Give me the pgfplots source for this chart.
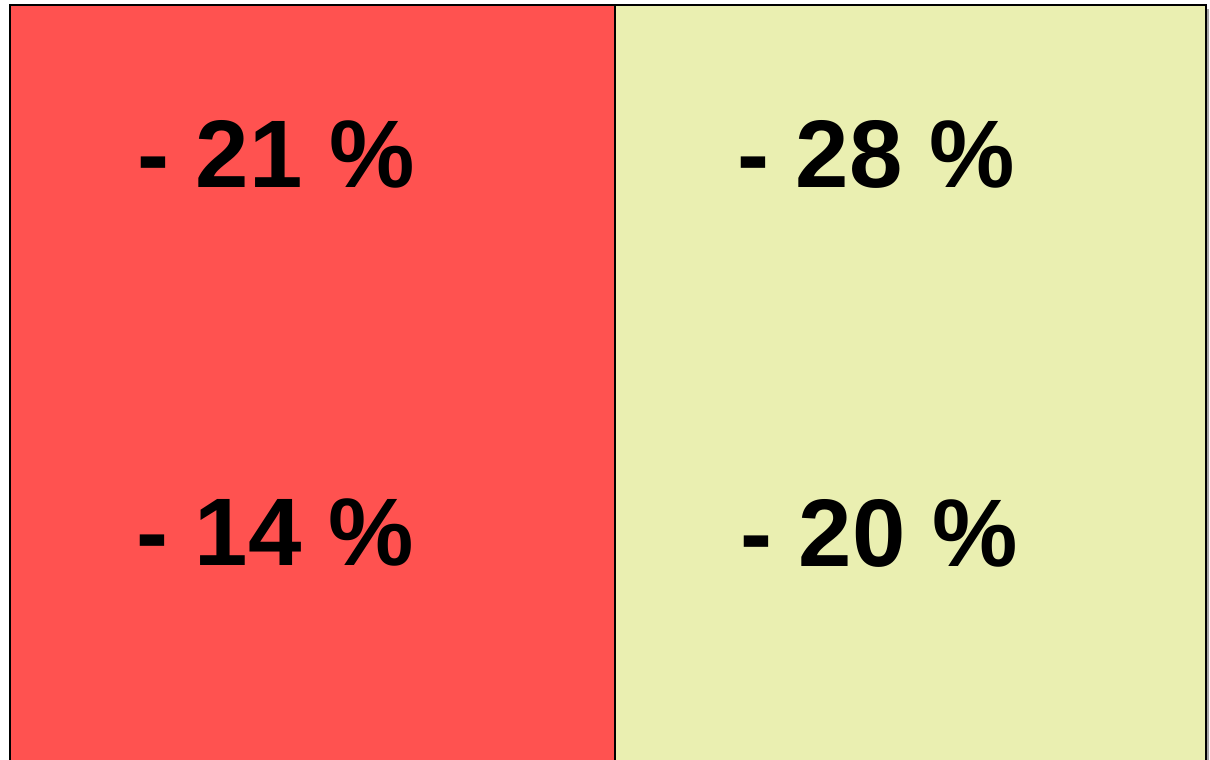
\documentclass[border=0pt]{standalone}
\usepackage{pgfplots}
\pgfplotsset{compat=1.18}
\usepackage{fontspec}
\setmainfont{Liberation Sans}
\definecolor{cred}{RGB}{255,82,80}
\definecolor{cyel}{RGB}{234,239,177}
\begin{document}
\begin{tikzpicture}
\useasboundingbox (0,0) rectangle (605pt,380pt);
\begin{axis}[
  at={(5.5pt,-20pt)}, anchor=south west,
  scale only axis, width=597pt, height=397pt,
  xmin=11, xmax=1205, ymin=-40, ymax=754,
  axis line style={line width=1.5pt, black},
  ticks=none,
  clip=false,
]
\addplot[fill=cred, draw=none] coordinates {(11,-40) (615,-40) (615,754) (11,754)} -- cycle;
\addplot[fill=cyel, draw=none] coordinates {(615,-40) (1205,-40) (1205,754) (615,754)} -- cycle;
\addplot[black, line width=1pt] coordinates {(615,-40) (615,754)};
\addplot[gray!70, line width=1pt] coordinates {(1208,-40) (1208,751)};
\addplot[only marks, mark=none, point meta=explicit symbolic,
  nodes near coords, nodes near coords align={center},
  every node near coord/.append style={anchor=center, font=\fontsize{48}{57}\selectfont\bfseries, text=black}]
  coordinates {(276,606) [- 21 \%] (275,228) [- 14 \%] (876,606) [- 28 \%] (879,227) [- 20 \%]};
\end{axis}
\end{tikzpicture}
\end{document}
